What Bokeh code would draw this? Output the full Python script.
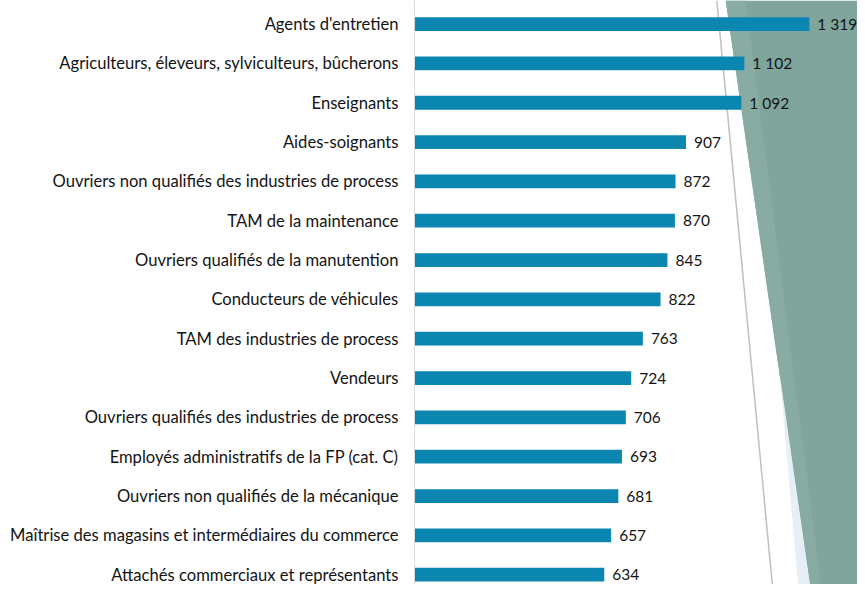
from bokeh.plotting import figure
from bokeh.models import Range1d, FixedTicker, ColumnDataSource, LabelSet
from bokeh.core.properties import value
from bokeh.embed import file_html
from bokeh.resources import INLINE

categories = [
    "Agents d'entretien",
    "Agriculteurs, éleveurs, sylviculteurs, bûcherons",
    "Enseignants",
    "Aides-soignants",
    "Ouvriers non qualifiés des industries de process",
    "TAM de la maintenance",
    "Ouvriers qualifiés de la manutention",
    "Conducteurs de véhicules",
    "TAM des industries de process",
    "Vendeurs",
    "Ouvriers qualifiés des industries de process",
    "Employés administratifs de la FP (cat. C)",
    "Ouvriers non qualifiés de la mécanique",
    "Maîtrise des magasins et intermédiaires du commerce",
    "Attachés commerciaux et représentants",
]
values = [1319, 1102, 1092, 907, 872, 870, 845, 822, 763, 724, 706, 693, 681, 657, 634]

FONT = "Lato"
FSIZE = "16.6px"
VSIZE = "15.5px"
BAR = "#0b86b0"
TXT = "#141414"

W, H = 857, 584
SX, SY = W / 865, H / 592
LEFT = 414

positions = list(range(len(categories)))
labels = [f"{v:,}".replace(",", " ") for v in values]
src = ColumnDataSource(dict(y=positions, v=values, lab=labels))

p = figure(width=W, height=H, output_backend="svg", toolbar_location=None,
           x_range=Range1d(0, 1480), y_range=Range1d(14.25, -0.60),
           min_border_left=LEFT, min_border_right=0, min_border_top=0, min_border_bottom=0)
p.outline_line_color = None
p.xgrid.visible = False
p.ygrid.visible = False
p.xaxis.visible = False

# decorative slide-theme background, in reference-pixel ranges
p.extra_x_ranges = {"px": Range1d(LEFT / SX, 865)}
p.extra_y_ranges = {"px": Range1d(592, 0)}
deco = dict(x_range_name="px", y_range_name="px")
p.patch([732, 900, 900, 817], [0, 0, 592, 592], fill_color="#80a59d", line_color=None, **deco)
p.patch([732, 752, 828, 817], [0, 0, 592, 592], fill_color="#88aba4", line_color=None, **deco)
p.patch([786.6, 817, 805], [380, 592, 592], fill_color="#e6eef6", line_color=None, **deco)
p.line([723, 779], [0, 592], line_color="#c0c0c0", line_width=1.5, **deco)

p.hbar(y="y", right="v", left=0, height=0.35, source=src, fill_color=BAR, line_color=None)

p.add_layout(LabelSet(x="v", y="y", text="lab", source=src, x_offset=8,
                      text_baseline="middle", text_align="left",
                      text_font=value(FONT), text_font_size=value(VSIZE),
                      text_color=TXT))

ax = p.yaxis[0]
ax.ticker = FixedTicker(ticks=positions)
ax.major_label_overrides = {i: c for i, c in zip(positions, categories)}
ax.axis_line_color = "#d9d9d9"
ax.axis_line_width = 1
ax.major_tick_line_color = None
ax.minor_tick_line_color = None
ax.major_tick_out = 0
ax.major_tick_in = 0
ax.major_label_standoff = 16
ax.major_label_text_font = FONT
ax.major_label_text_font_size = FSIZE
ax.major_label_text_color = TXT

open("out.html", "w").write(file_html(p, INLINE))
